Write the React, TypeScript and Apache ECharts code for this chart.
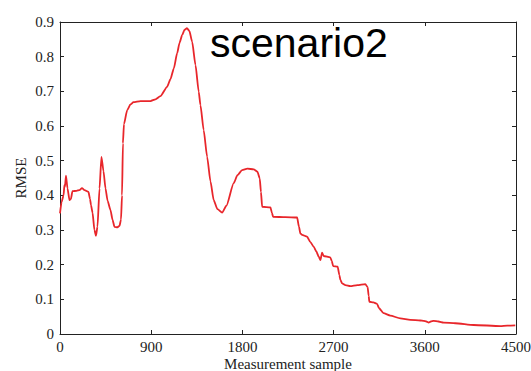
import React, { useEffect, useRef } from "react";
import * as echarts from "echarts";

const samples = [0, 15, 35, 44, 49, 59, 74, 94, 108, 123, 163, 192, 217, 242, 281, 296, 306, 321, 340, 355, 370, 390, 409, 429, 449, 469, 498, 518, 538, 567, 587, 602, 612, 621, 631, 663, 695, 725, 794, 893, 942, 991, 1057, 1090, 1123, 1156, 1180, 1205, 1230, 1253, 1277, 1304, 1337, 1369, 1386, 1418, 1452, 1485, 1517, 1554, 1600, 1642, 1714, 1751, 1797, 1849, 1912, 1948, 1971, 1983, 1995, 2077, 2091, 2103, 2224, 2340, 2358, 2372, 2389, 2438, 2471, 2503, 2530, 2553, 2570, 2586, 2602, 2667, 2683, 2695, 2740, 2757, 2767, 2784, 2816, 2865, 2934, 3013, 3036, 3046, 3053, 3093, 3129, 3147, 3192, 3260, 3359, 3457, 3556, 3589, 3615, 3638, 3660, 3687, 3734, 3786, 3901, 4082, 4345, 4414, 4493];
const rmse = [0.348, 0.38, 0.40, 0.43, 0.425, 0.457, 0.42, 0.386, 0.39, 0.412, 0.413, 0.415, 0.421, 0.415, 0.41, 0.39, 0.372, 0.35, 0.30, 0.283, 0.31, 0.42, 0.511, 0.47, 0.42, 0.385, 0.358, 0.33, 0.309, 0.308, 0.312, 0.33, 0.40, 0.55, 0.605, 0.646, 0.662, 0.669, 0.672, 0.672, 0.677, 0.686, 0.713, 0.735, 0.766, 0.81, 0.84, 0.862, 0.878, 0.882, 0.874, 0.843, 0.776, 0.699, 0.66, 0.588, 0.511, 0.44, 0.386, 0.36, 0.35, 0.37, 0.435, 0.458, 0.473, 0.477, 0.475, 0.468, 0.449, 0.41, 0.367, 0.365, 0.35, 0.338, 0.337, 0.336, 0.31, 0.29, 0.286, 0.281, 0.265, 0.252, 0.238, 0.223, 0.213, 0.235, 0.225, 0.221, 0.21, 0.196, 0.194, 0.17, 0.156, 0.146, 0.141, 0.138, 0.141, 0.144, 0.135, 0.11, 0.093, 0.091, 0.087, 0.075, 0.06, 0.053, 0.045, 0.041, 0.039, 0.038, 0.036, 0.033, 0.036, 0.038, 0.036, 0.033, 0.031, 0.026, 0.023, 0.024, 0.025];

const xTicks = [0, 900, 1800, 2700, 3600, 4500];
const yTicks = [0, 0.1, 0.2, 0.3, 0.4, 0.5, 0.6, 0.7, 0.8, 0.9];

const titleText = "scenario2";
const xName = "Measurement sample";
const yName = "RMSE";

export default function App() {
  const ref = useRef<HTMLDivElement>(null);
  useEffect(() => {
    if (!ref.current) return;
    const chart = echarts.init(ref.current, null, { renderer: "svg" });
    const serif = "'Liberation Serif', 'DejaVu Serif', serif";
    const lbl = { fontFamily: serif, fontSize: 15, color: "#222" };
    const axisLine = { show: true, onZero: false, lineStyle: { color: "#222", width: 1 } };
    const tick = { show: true, inside: true, length: 4, lineStyle: { color: "#222", width: 1 } };
    chart.setOption({
      animation: false,
      grid: { left: 60, right: 15, top: 22, bottom: 37, containLabel: false, outerBoundsMode: "none" },
      xAxis: [
        {
          type: "value",
          min: xTicks[0],
          max: xTicks[xTicks.length - 1],
          interval: 900,
          axisLine,
          axisTick: tick,
          splitLine: { show: false },
          axisLabel: { ...lbl, margin: 5, formatter: (v: number) => String(v) },
          name: xName,
          nameLocation: "middle",
          nameGap: 22,
          nameMoveOverlap: false,
          nameTextStyle: { ...lbl },
        },
        {
          type: "value",
          position: "top",
          min: xTicks[0],
          max: xTicks[xTicks.length - 1],
          interval: 900,
          axisLine,
          axisTick: tick,
          splitLine: { show: false },
          axisLabel: { show: false },
        },
      ],
      yAxis: [
        {
          type: "value",
          min: yTicks[0],
          max: yTicks[yTicks.length - 1],
          interval: 0.1,
          axisLine,
          axisTick: tick,
          splitLine: { show: false },
          axisLabel: { ...lbl, margin: 6, formatter: (v: number) => (Math.round(v * 10) / 10).toString() },
          name: yName,
          nameLocation: "middle",
          nameGap: 32,
          nameMoveOverlap: false,
          nameTextStyle: { ...lbl },
        },
        {
          type: "value",
          position: "right",
          min: yTicks[0],
          max: yTicks[yTicks.length - 1],
          interval: 0.1,
          axisLine,
          axisTick: tick,
          splitLine: { show: false },
          axisLabel: { show: false },
        },
      ],
      graphic: [
        {
          type: "text",
          x: 210,
          y: 22,
          style: {
            text: titleText,
            font: "41px 'Liberation Sans', Arial, sans-serif",
            fill: "#000",
            textVerticalAlign: "top",
          },
        },
      ],
      series: [
        {
          type: "line",
          data: samples.map((s, i) => [s, rmse[i]]),
          showSymbol: false,
          symbol: "none",
          smooth: 0.2,
          smoothMonotone: "x",
          lineStyle: { color: "#e8262b", width: 1.8 },
          xAxisIndex: 0,
          yAxisIndex: 0,
        },
      ],
    });
    return () => chart.dispose();
  }, []);
  return <div ref={ref} style={{ position: "absolute", left: 0, top: 0, width: 531, height: 371 }} />;
}
